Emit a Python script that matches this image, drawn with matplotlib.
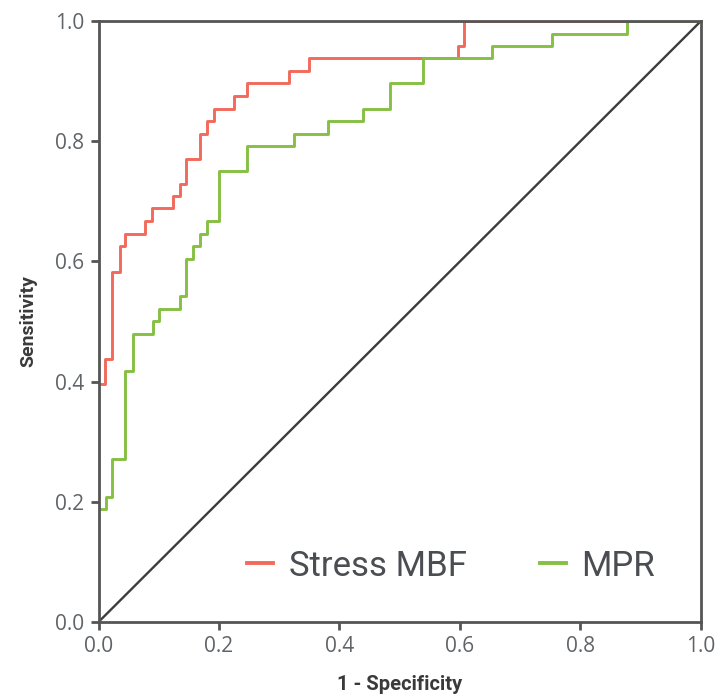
import matplotlib
matplotlib.use("Agg")
import matplotlib.pyplot as plt
from matplotlib import font_manager

# ROC operating points (1 - specificity, sensitivity), drawn as post-steps
mbf_fpr = [0.0, 0.011, 0.022, 0.035, 0.044, 0.077, 0.089, 0.123, 0.135, 0.146,
           0.168, 0.180, 0.192, 0.225, 0.246, 0.317, 0.349, 0.597, 0.607, 1.0]
mbf_tpr = [0.396, 0.438, 0.583, 0.625, 0.646, 0.667, 0.688, 0.708, 0.729, 0.771,
           0.812, 0.833, 0.854, 0.875, 0.896, 0.917, 0.938, 0.958, 1.0, 1.0]

mpr_fpr = [0.0, 0.012, 0.022, 0.044, 0.057, 0.090, 0.101, 0.135, 0.146, 0.157,
           0.168, 0.180, 0.200, 0.246, 0.324, 0.381, 0.439, 0.483, 0.539, 0.653,
           0.752, 0.878, 1.0]
mpr_tpr = [0.188, 0.208, 0.271, 0.417, 0.479, 0.500, 0.521, 0.542, 0.604, 0.625,
           0.646, 0.667, 0.750, 0.792, 0.812, 0.833, 0.854, 0.896, 0.938, 0.958,
           0.979, 1.0, 1.0]

series_names = ["Stress MBF", "MPR"]
series_colors = ["#f26a5c", "#86c043"]
ticks = [0.0, 0.2, 0.4, 0.6, 0.8, 1.0]
tick_labels = ["0.0", "0.2", "0.4", "0.6", "0.8", "1.0"]

installed = {f.name for f in font_manager.fontManager.ttflist}
narrow = "Liberation Sans Narrow" if "Liberation Sans Narrow" in installed else "Roboto"
plt.rcParams["font.family"] = ["Open Sans", "DejaVu Sans"]

fig = plt.figure(figsize=(7.18, 6.97), dpi=100)
ax = fig.add_axes([0.1372, 0.1076, 0.8391, 0.8623])

ax.plot([0, 1], [0, 1], color="#3c3c3c", lw=1.7, zorder=1.5)
ax.step(mbf_fpr, mbf_tpr, where="post", color=series_colors[0], lw=2.1,
        label=series_names[0])
ax.step(mpr_fpr, mpr_tpr, where="post", color=series_colors[1], lw=2.1,
        label=series_names[1])

ax.set_xlim(0, 1)
ax.set_ylim(0, 1)
ax.set_xticks(ticks)
ax.set_xticklabels(tick_labels)
ax.set_yticks(ticks)
ax.set_yticklabels(tick_labels)

for s in ax.spines.values():
    s.set_color("#555555")
    s.set_linewidth(2.0)
    s.set_zorder(3)

ax.tick_params(axis="both", direction="out", length=6, width=2.0,
               color="#555555", labelsize=15, labelcolor="#5f6468", pad=4)

ax.set_xlabel("1 - Specificity", family=[narrow, "DejaVu Sans"], fontsize=14.5,
              fontweight="bold", color="#3a3a3a", labelpad=13)
ax.set_ylabel("Sensitivity", family=[narrow, "DejaVu Sans"], fontsize=14,
              fontweight="bold", color="#3a3a3a", labelpad=13)

leg = ax.legend(loc="center", bbox_to_anchor=(0.585, 0.093), ncol=2,
                frameon=False, handlelength=0.75, handletextpad=0.45,
                columnspacing=2.1,
                prop={"family": [narrow, "DejaVu Sans"], "size": 25})
for h in leg.get_lines():
    h.set_linewidth(2.8)
for t in leg.get_texts():
    t.set_color("#4a4d52")

fig.savefig("out.png", dpi=100)
